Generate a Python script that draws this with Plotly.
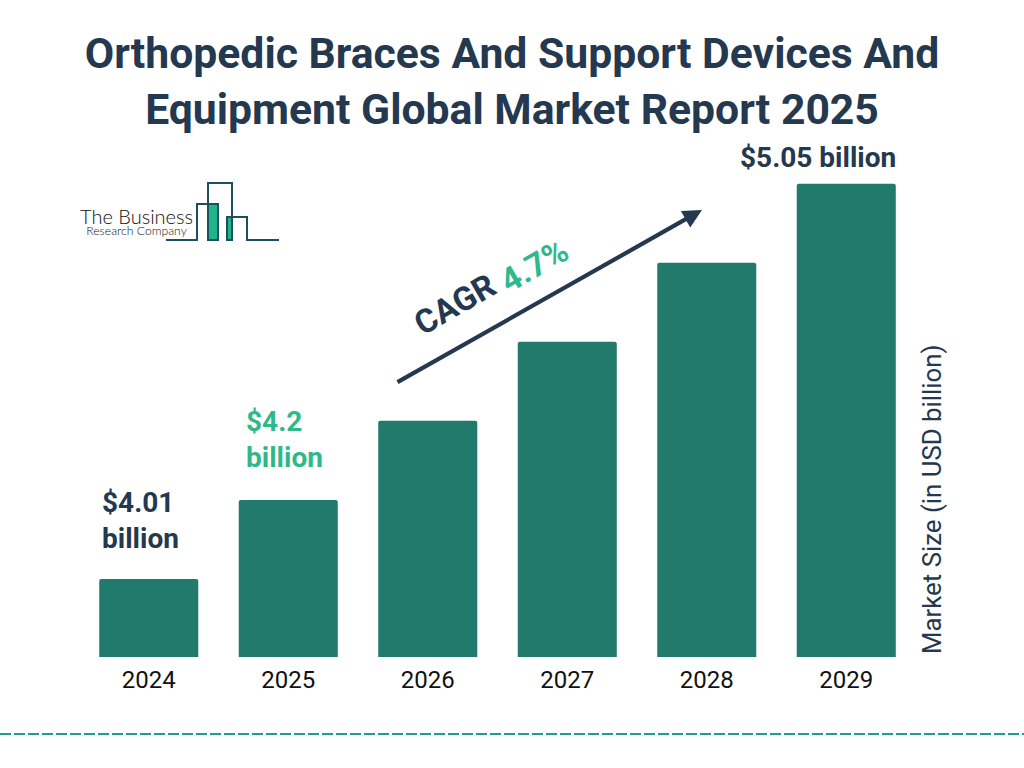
import plotly.graph_objects as go

years = ['2024', '2025', '2026', '2027', '2028', '2029']
market_size = [4.01, 4.218, 4.426, 4.634, 4.842, 5.05]
bar_labels = ['$4.01<br>billion', '$4.2<br>billion', '', '', '', '$5.05 billion']

NAVY = '#24384f'
GREEN = '#2fb98b'
BAR = '#217a6b'
LOGO = '#1f4e5f'
W, H = 1024, 768
L, R, T, B = 79, 108, 165, 111


# page pixels -> paper coordinates, only for the decorations around the chart
def px(x):
    return (x - L) / (W - L - R)


def py(y):
    return 1 - (y - T) / (H - T - B)


def page_text(x, y, text, xanchor='center', **font):
    fig.add_annotation(x=px(x), y=py(y), xref='paper', yref='paper', text=text, showarrow=False,
                       xanchor=xanchor, yanchor='middle', textangle=font.pop('angle', 0), font=font)


fig = go.Figure()
fig.add_trace(go.Bar(x=years, y=market_size, marker=dict(color=BAR, cornerradius=2, line_width=0), hoverinfo='skip'))

# labels sit on the bars
label_style = {
    '2024': dict(xanchor='left', align='left', xshift=-49, yshift=22, font_color=NAVY),
    '2025': dict(xanchor='left', align='left', xshift=-44, yshift=24, font_color=GREEN),
    '2029': dict(xanchor='right', align='right', xshift=52, yshift=8, font_color=NAVY),
}
for i, (year, value, label) in enumerate(zip(years, market_size, bar_labels)):
    if not label:
        continue
    s = label_style[year]
    # category position, a year string would be read as a numeric position
    fig.add_annotation(x=i, y=value, text=label, showarrow=False, yanchor='bottom', xanchor=s['xanchor'],
                       align=s['align'], xshift=s['xshift'], yshift=s['yshift'],
                       font=dict(family='Roboto', size=28, color=s['font_color'], weight=700))

# CAGR arrow
fig.add_annotation(x=px(702), y=py(210), xref='paper', yref='paper', axref='pixel', ayref='pixel', ax=396 - 702, ay=383 - 210,
                   text='', showarrow=True, arrowhead=2, arrowsize=0.9, arrowwidth=4.2, arrowcolor=NAVY)
page_text(454, 304, 'CAGR', family='Roboto', size=33, color=NAVY, weight=700, angle=-30)
page_text(534, 265, '4.7%', family='Roboto', size=33, color=GREEN, weight=700, angle=-30)

page_text(932, 499, 'Market Size (in USD billion)', family='Roboto', size=25.8, color=NAVY, angle=-90)

# logo
fig.add_shape(type='rect', xref='paper', yref='paper', x0=px(209), x1=px(217), y0=py(205), y1=py(239), fillcolor='#1fb58a', line_width=0)
fig.add_shape(type='rect', xref='paper', yref='paper', x0=px(228), x1=px(232), y0=py(217), y1=py(239), fillcolor='#1fb58a', line_width=0)
logo_pts = [(166, 240), (197, 240), (197, 204), (218, 204), (218, 240), (208, 240), (208, 183), (232, 183),
            (232, 240), (227, 240), (227, 217), (247, 217), (247, 240), (279, 240)]
logo_path = 'M ' + ' L '.join(f'{px(a):.5f} {py(b):.5f}' for a, b in logo_pts)
fig.add_shape(type='path', xref='paper', yref='paper', path=logo_path, line=dict(color=LOGO, width=2))
# one two-line text, base size sets the tight line spacing
page_text(136.5, 221, '<span style="font-size:20px">The Business</span><br><span style="font-size:12.2px">Research Company</span>',
          family='Lato', size=8.5, color='#111111', weight=300)

# dashed rule along the bottom
fig.add_shape(type='line', xref='paper', yref='paper', x0=px(0), x1=px(W), y0=py(734), y1=py(734),
              line=dict(color='#1f9e8e', width=2, dash='11px,3px'))

fig.update_layout(
    width=W, height=H, margin=dict(l=L, r=R, t=T, b=B), autosize=False,
    paper_bgcolor='white', plot_bgcolor='white', showlegend=False, bargap=0.29,
    title=dict(text='Orthopedic Braces And Support Devices And<br>Equipment Global Market Report 2025',
               x=0.5, xanchor='center', xref='container', y=1 - 68 / H, yanchor='middle', yref='container',
               font=dict(family='Roboto', size=42.7, color=NAVY, weight=700)),
    xaxis=dict(type='category', showline=False, showgrid=False, zeroline=False, ticks='', ticklabelstandoff=6,
               range=[-0.5, 5.5], tickfont=dict(family='Roboto', size=24, color='#111111')),
    yaxis=dict(range=[3.8046, 5.0993], visible=False, fixedrange=True),
)

fig.write_html('out.html', include_plotlyjs=True, config={'displayModeBar': False},
               post_script="document.body.style.margin='0';document.body.style.overflow='hidden';")
